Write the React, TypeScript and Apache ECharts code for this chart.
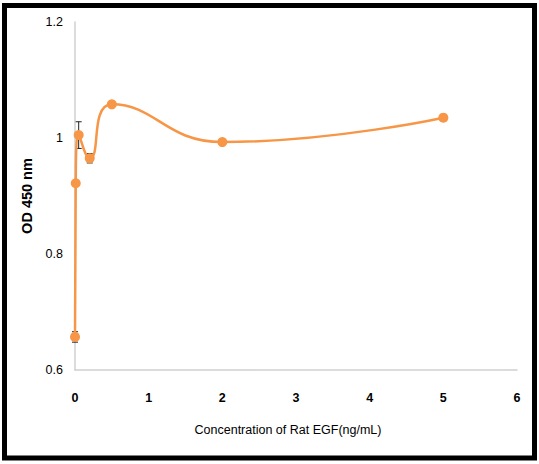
import React, { useEffect, useRef } from "react";
import * as echarts from "echarts";

const concentrations = [0, 0.01, 0.05, 0.2, 0.5, 2, 5];
const odValues = [0.657, 0.922, 1.005, 0.965, 1.058, 0.993, 1.035];
const errValues = [0.009, 0.004, 0.023, 0.008, 0.004, 0.004, 0.004];
const xTicks = [0, 1, 2, 3, 4, 5, 6];
const yTicks = [0.6, 0.8, 1, 1.2];

export default function App() {
  const ref = useRef<HTMLDivElement>(null);
  useEffect(() => {
    if (!ref.current) return;
    const chart = echarts.init(ref.current, null, { renderer: "svg" });
    const lineData = concentrations.map((x, i) => [x, odValues[i]]);
    const errData = concentrations.map((x, i) => [x, odValues[i] - errValues[i], odValues[i] + errValues[i]]);
    const font = "'Liberation Sans', Arial, sans-serif";
    chart.setOption({
      animation: false,
      backgroundColor: "#ffffff",
      textStyle: { fontFamily: font },
      grid: { left: 75, right: 22, top: 22, bottom: 94, containLabel: false },
      graphic: [
        {
          type: "rect",
          shape: { x: 4.5, y: 5.5, width: 530, height: 452.5 },
          style: { fill: "none", stroke: "#000000", lineWidth: 5 },
          z: 100,
        },
      ],
      xAxis: {
        type: "value",
        min: xTicks[0],
        max: xTicks[xTicks.length - 1],
        interval: 1,
        name: "Concentration of Rat EGF(ng/mL)",
        nameLocation: "middle",
        nameGap: 53,
        nameTextStyle: { fontSize: 12.5, color: "#000", fontFamily: font, padding: [0, 16, 0, 0] },
        axisLine: { show: true, lineStyle: { color: "#d0d0d0", width: 1.5 } },
        axisTick: { show: false },
        splitLine: { show: false },
        axisLabel: { margin: 21, fontSize: 12.5, color: "#000", fontFamily: font, fontWeight: "bold" },
      },
      yAxis: {
        type: "value",
        min: yTicks[0],
        max: yTicks[yTicks.length - 1],
        interval: 0.2,
        name: "OD 450 nm",
        nameLocation: "middle",
        nameGap: 38,
        nameTextStyle: { fontSize: 14.5, color: "#000", fontWeight: "bold", fontFamily: font },
        axisLine: { show: true, lineStyle: { color: "#d0d0d0", width: 1.5 } },
        axisTick: { show: false },
        splitLine: { show: false },
        axisLabel: {
          margin: 12,
          fontSize: 12.5,
          color: "#000",
          fontFamily: font,
          formatter: (v: number) => String(Math.round(v * 10) / 10),
        },
      },
      series: [
        {
          type: "custom",
          data: errData,
          z: 1,
          renderItem: (params: any, api: any) => {
            const x = api.value(0);
            const lo = api.coord([x, api.value(1)]);
            const hi = api.coord([x, api.value(2)]);
            const w = 3;
            const style = { stroke: "#222", lineWidth: 1 };
            return {
              type: "group",
              children: [
                { type: "line", shape: { x1: lo[0], y1: lo[1], x2: hi[0], y2: hi[1] }, style },
                { type: "line", shape: { x1: lo[0] - w, y1: lo[1], x2: lo[0] + w, y2: lo[1] }, style },
                { type: "line", shape: { x1: hi[0] - w, y1: hi[1], x2: hi[0] + w, y2: hi[1] }, style },
              ],
            };
          },
        },
        {
          type: "line",
          data: lineData,
          smooth: 0.5,
          symbol: "circle",
          symbolSize: 10,
          lineStyle: { color: "#F79646", width: 2.5 },
          itemStyle: { color: "#F79646" },
          z: 2,
        },
      ],
    });
    return () => chart.dispose();
  }, []);
  return (
    <div
      ref={ref}
      style={{ position: "fixed", left: 0, top: 0, width: 539, height: 464 }}
    />
  );
}
